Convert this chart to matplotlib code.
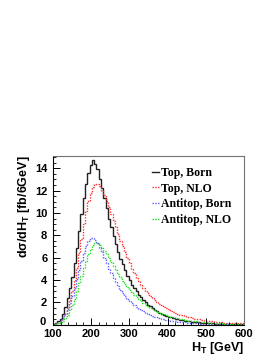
import numpy as np
import matplotlib
matplotlib.use("Agg")
import matplotlib.pyplot as plt
import matplotlib.transforms as mtransforms
from matplotlib.ticker import MultipleLocator

plt.rcParams['font.family'] = ['Liberation Sans', 'DejaVu Sans']
plt.rcParams['mathtext.fontset'] = 'custom'
plt.rcParams['mathtext.bf'] = 'Liberation Sans:bold'
plt.rcParams['mathtext.rm'] = 'Liberation Sans:bold'
plt.rcParams['mathtext.default'] = 'bf'

# 6 GeV bins, 100 .. 604 GeV
edges = np.arange(100, 605, 6)

top_born = [0.05, 0.15, 0.30, 0.55, 1.0, 1.6, 2.4, 3.3, 4.3, 5.5,
            6.9, 8.4, 9.9, 11.3, 12.6, 13.6, 14.3, 14.7, 14.4, 13.9,
            13.0, 12.2, 11.3, 10.4, 9.5, 8.7, 7.9, 7.2, 6.5, 5.9,
            5.4, 4.9, 4.4, 4.0, 3.6, 3.3, 3.0, 2.7, 2.45, 2.2,
            2.0, 1.8, 1.65, 1.5, 1.35, 1.22, 1.1, 1.0, 0.9, 0.82,
            0.74, 0.67, 0.61, 0.55, 0.5, 0.45, 0.41, 0.37, 0.34, 0.31,
            0.28, 0.25, 0.23, 0.21, 0.19, 0.17, 0.16, 0.14, 0.13, 0.12,
            0.11, 0.10, 0.09, 0.08, 0.075, 0.07, 0.06, 0.055, 0.05, 0.045,
            0.04, 0.037, 0.034, 0.03]

top_nlo = [0.03, 0.08, 0.18, 0.35, 0.6, 1.0, 1.5, 2.2, 3.0, 4.0,
           5.1, 6.4, 7.7, 9.0, 10.2, 11.1, 11.8, 12.3, 12.6, 12.6,
           12.4, 12.0, 11.6, 11.1, 10.5, 9.9, 9.3, 8.7, 8.1, 7.5,
           7.0, 6.5, 6.0, 5.5, 5.0, 4.6, 4.2, 3.9, 3.6, 3.3,
           3.05, 2.8, 2.6, 2.4, 2.2, 2.05, 1.9, 1.75, 1.62, 1.5,
           1.38, 1.27, 1.17, 1.08, 1.0, 0.92, 0.85, 0.78, 0.72, 0.66,
           0.61, 0.56, 0.52, 0.48, 0.44, 0.41, 0.38, 0.35, 0.32, 0.30,
           0.28, 0.26, 0.24, 0.22, 0.2, 0.19, 0.18, 0.17, 0.16, 0.15,
           0.14, 0.13, 0.12, 0.11]

antitop_born = [0.03, 0.1, 0.2, 0.35, 0.6, 0.95, 1.4, 1.95, 2.6, 3.3,
                4.1, 4.9, 5.7, 6.4, 7.0, 7.5, 7.8, 7.8, 7.6, 7.3,
                6.9, 6.5, 6.0, 5.5, 5.0, 4.6, 4.2, 3.8, 3.45, 3.15,
                2.85, 2.6, 2.35, 2.15, 1.95, 1.77, 1.6, 1.45, 1.32, 1.2,
                1.09, 0.99, 0.9, 0.82, 0.74, 0.67, 0.61, 0.56, 0.51, 0.46,
                0.42, 0.38, 0.35, 0.32, 0.29, 0.26, 0.24, 0.22, 0.2, 0.18,
                0.165, 0.15, 0.135, 0.12, 0.11, 0.1, 0.09, 0.082, 0.075, 0.068,
                0.062, 0.056, 0.05, 0.046, 0.042, 0.038, 0.034, 0.031, 0.028, 0.025,
                0.023, 0.021, 0.019, 0.017]

antitop_nlo = [0.02, 0.06, 0.12, 0.22, 0.38, 0.6, 0.9, 1.3, 1.8, 2.35,
               3.0, 3.7, 4.4, 5.1, 5.7, 6.3, 6.8, 7.1, 7.3, 7.3,
               7.1, 6.9, 6.6, 6.3, 5.95, 5.6, 5.25, 4.9, 4.55, 4.25,
               3.95, 3.65, 3.4, 3.15, 2.9, 2.7, 2.5, 2.3, 2.12, 1.96,
               1.8, 1.66, 1.53, 1.41, 1.3, 1.2, 1.1, 1.01, 0.93, 0.86,
               0.79, 0.73, 0.67, 0.62, 0.57, 0.52, 0.48, 0.44, 0.41, 0.38,
               0.35, 0.32, 0.3, 0.27, 0.25, 0.23, 0.21, 0.2, 0.18, 0.17,
               0.155, 0.145, 0.135, 0.125, 0.115, 0.105, 0.1, 0.09, 0.085, 0.08,
               0.075, 0.07, 0.065, 0.06]

labels = ['Top, Born', 'Top, NLO', 'Antitop, Born', 'Antitop, NLO']

fig = plt.figure(figsize=(2.74, 3.55), dpi=100)
ax = fig.add_axes([0.193, 0.085, 0.698, 0.476])

ax.stairs(top_born, edges, color='#222222', lw=1.0, ls='-', label=labels[0])
ax.stairs(top_nlo, edges, color='#ff3030', lw=1.0, ls=(0, (1, 1)), label=labels[1])
ax.stairs(antitop_born, edges, color='#6060ff', lw=1.0, ls=(0, (1, 1)), label=labels[2])
ax.stairs(antitop_nlo, edges, color='#20e020', lw=1.0, ls=(0, (1, 1)), label=labels[3])

ax.set_xlim(100, 600)
ax.set_ylim(0, 15.1)
ax.xaxis.set_major_locator(MultipleLocator(100))
ax.xaxis.set_minor_locator(MultipleLocator(20))
ax.yaxis.set_major_locator(MultipleLocator(2))
ax.yaxis.set_minor_locator(MultipleLocator(0.5))
ax.tick_params(which='both', direction='in', top=False, right=False,
               labelsize=8)
ax.tick_params(axis='x', pad=3)
ax.tick_params(axis='y', pad=4)
ax.tick_params(which='major', length=5, width=0.7)
ax.tick_params(which='minor', length=2.5, width=0.6)
for lab in ax.get_xticklabels() + ax.get_yticklabels():
    lab.set_fontweight('bold')

# the "0" on y sits just above the "100" on x, nudge it up a little
fig.canvas.draw()
nudge = mtransforms.ScaledTranslation(-1 / 72, 3 / 72, fig.dpi_scale_trans)
for tick in ax.yaxis.get_major_ticks():
    if tick.get_loc() == 0:
        tick.label1.set_transform(tick.label1.get_transform() + nudge)

for side in ['top', 'right']:
    ax.spines[side].set_color('0.45')
    ax.spines[side].set_linewidth(0.8)
for side in ['left', 'bottom']:
    ax.spines[side].set_linewidth(0.8)

ax.set_ylabel('d\u03c3/dH$_T$ [fb/6GeV]', loc='top', fontsize=9,
              fontweight='bold', labelpad=2)
ax.set_xlabel('H$_T$ [GeV]', loc='right', fontsize=9, fontweight='bold',
              labelpad=1)

ax.legend(loc='upper left', bbox_to_anchor=(0.52, 0.935), frameon=False,
          prop={'family': 'Liberation Serif', 'weight': 'bold', 'size': 8.5},
          handlelength=0.6, handletextpad=0.15, labelspacing=0.32,
          borderpad=0, borderaxespad=0)

fig.savefig('out.png', dpi=100)
